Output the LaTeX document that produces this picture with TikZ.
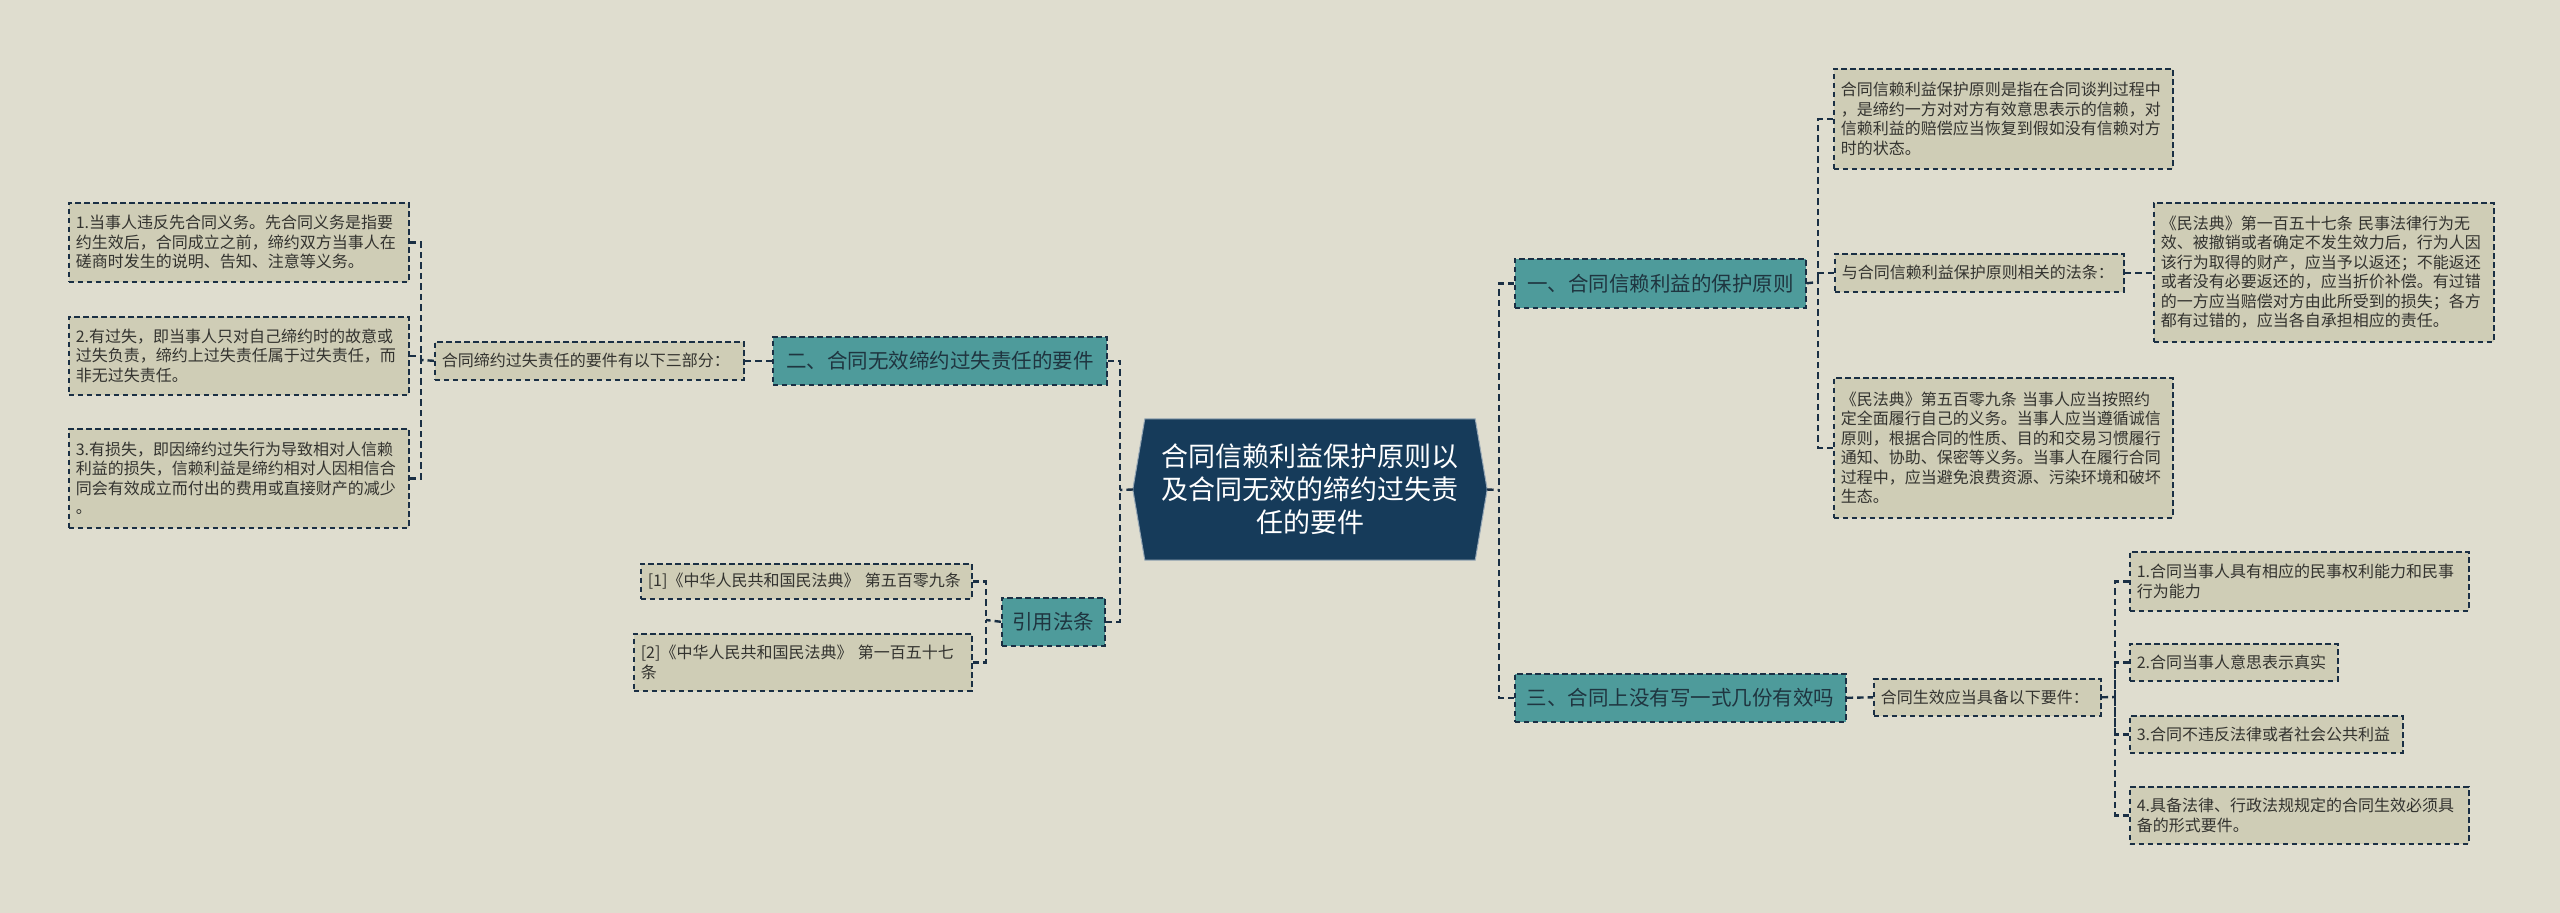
\documentclass[tikz,border=0pt]{standalone}
\usepackage{fontspec}
\setmainfont{Noto Sans CJK SC}
\definecolor{bgc}{HTML}{DFDDCF}
\definecolor{leafc}{HTML}{CFCDB6}
\definecolor{tealc}{HTML}{4E9B9B}
\definecolor{edgec}{HTML}{1A2F44}
\definecolor{txtc}{HTML}{33332F}
\definecolor{topictxt}{HTML}{1F3540}
\definecolor{centerc}{HTML}{163B5A}
\pgfdeclarelayer{bg}
\pgfdeclarelayer{background}
\pgfsetlayers{bg,background,main}
\begin{document}
\begin{tikzpicture}[x=1pt,y=1pt,
  leaf/.style={draw=edgec, dash pattern=on 5.5pt off 3.5pt, line width=1.6pt, fill=leafc, text=txtc,
    font=\fontsize{16}{19.5}\selectfont, align=left, inner xsep=7pt, inner ysep=0pt, anchor=north west},
  topic/.style={draw=edgec, dash pattern=on 5.5pt off 3.5pt, line width=1.6pt, fill=tealc, text=topictxt,
    font=\fontsize{20.5}{24}\selectfont, inner sep=0pt, anchor=north west},
  conn/.style={draw=edgec, line width=2.4pt, dash pattern=on 6.5pt off 4pt}]
\begin{pgfonlayer}{bg}
\fill[bgc] (0,0) rectangle (2560,-913);
\end{pgfonlayer}
\useasboundingbox (0,0) rectangle (2560,-913);

% center
\node[text=white, font=\fontsize{27}{33}\selectfont, align=center, minimum width=354pt, minimum height=141pt, inner sep=0pt] (c) at (1310,-489.5)
  {合同信赖利益保护原则以\\及合同无效的缔约过失责\\任的要件};
\begin{pgfonlayer}{background}
\path[fill=centerc, draw=white!55!centerc, line width=1pt]
  (c.west) -- ([xshift=12pt]c.north west) -- ([xshift=-12pt]c.north east) -- (c.east)
  -- ([xshift=-12pt]c.south east) -- ([xshift=12pt]c.south west) -- cycle;
\end{pgfonlayer}

% topics
\node[topic, minimum width=291pt, minimum height=49pt] (n1) at (1514,-258) {一、合同信赖利益的保护原则};
\node[topic, minimum width=334pt, minimum height=48pt] (n2) at (772,-336) {二、合同无效缔约过失责任的要件};
\node[topic, minimum width=103pt, minimum height=48pt] (yy) at (1001,-597) {引用法条};
\node[topic, minimum width=331pt, minimum height=48pt] (n3) at (1514,-673) {三、合同上没有写一式几份有效吗};

% right top
\node[leaf, text width=325pt, minimum height=100pt] (A) at (1833,-68)
  {合同信赖利益保护原则是指在合同谈判过程中\\，是缔约一方对对方有效意思表示的信赖，对\\信赖利益的赔偿应当恢复到假如没有信赖对方\\时的状态。};
\node[leaf, text width=275pt, minimum height=38pt] (B) at (1834,-253)
  {与合同信赖利益保护原则相关的法条：};
\node[leaf, text width=326pt, minimum height=139pt] (C) at (2153,-202)
  {《民法典》第一百五十七条~民事法律行为无\\效、被撤销或者确定不发生效力后，行为人因\\该行为取得的财产，应当予以返还；不能返还\\或者没有必要返还的，应当折价补偿。有过错\\的一方应当赔偿对方由此所受到的损失；各方\\都有过错的，应当各自承担相应的责任。};
\node[leaf, text width=325pt, minimum height=140pt] (D) at (1833,-377)
  {《民法典》第五百零九条~当事人应当按照约\\定全面履行自己的义务。当事人应当遵循诚信\\原则，根据合同的性质、目的和交易习惯履行\\通知、协助、保密等义务。当事人在履行合同\\过程中，应当避免浪费资源、污染环境和破坏\\生态。};

% right bottom
\node[leaf, text width=213pt, minimum height=37pt] (E) at (1873,-678) {合同生效应当具备以下要件：};
\node[leaf, text width=325pt, minimum height=59pt] (F1) at (2129,-551)
  {1.合同当事人具有相应的民事权利能力和民事\\行为能力};
\node[leaf, text width=194pt, minimum height=37pt] (F2) at (2129,-643) {2.合同当事人意思表示真实};
\node[leaf, text width=259pt, minimum height=37pt] (F3) at (2129,-715) {3.合同不违反法律或者社会公共利益};
\node[leaf, text width=325pt, minimum height=57pt] (F4) at (2129,-786)
  {4.具备法律、行政法规规定的合同生效必须具\\备的形式要件。};

% left
\node[leaf, text width=326pt, minimum height=79pt] (L1) at (68,-202)
  {1.当事人违反先合同义务。先合同义务是指要\\约生效后，合同成立之前，缔约双方当事人在\\磋商时发生的说明、告知、注意等义务。};
\node[leaf, text width=326pt, minimum height=78pt] (L2) at (68,-316)
  {2.有过失，即当事人只对自己缔约时的故意或\\过失负责，缔约上过失责任属于过失责任，而\\非无过失责任。};
\node[leaf, text width=326pt, minimum height=99pt] (L3) at (68,-428)
  {3.有损失，即因缔约过失行为导致相对人信赖\\利益的损失，信赖利益是缔约相对人因相信合\\同会有效成立而付出的费用或直接财产的减少\\。};
\node[leaf, text width=295pt, minimum height=38pt] (M) at (434,-341)
  {合同缔约过失责任的要件有以下三部分：};

% citations
\node[leaf, text width=317pt, minimum height=35pt] (R1) at (640,-563)
  {[1]《中华人民共和国民法典》~第五百零九条};
\node[leaf, text width=324pt, minimum height=57pt] (R2) at (633,-633)
  {[2]《中华人民共和国民法典》~第一百五十七\\条};

% junction points
\coordinate (jl) at (1120,-490);
\coordinate (jr) at (1499,-490);
\coordinate (j1) at (1818,-282);
\coordinate (j2) at (421,-360);
\coordinate (j3) at (986,-620);
\coordinate (j4) at (2115,-697);

% connectors
\draw[conn] (c.west) -- (jl);
\draw[conn] (n2.east) -| (jl);
\draw[conn] (yy.east) -| (jl);
\draw[conn] (c.east) -- (jr);
\draw[conn] (n1.west) -| (jr);
\draw[conn] (n3.west) -| (jr);

\draw[conn] (n1.east) -- (j1);
\draw[conn] (A.west) -| (j1);
\draw[conn] (B.west) -| (j1);
\draw[conn] (D.west) -| (j1);
\draw[conn] (B.east) -- (B.east -| C.west);

\draw[conn] (n2.west) -- (n2.west -| M.east);
\draw[conn] (M.west) -- (j2);
\draw[conn] (L1.east) -| (j2);
\draw[conn] (L2.east) -| (j2);
\draw[conn] (L3.east) -| (j2);

\draw[conn] (yy.west) -- (j3);
\draw[conn] (R1.east) -| (j3);
\draw[conn] (R2.east) -| (j3);

\draw[conn] (n3.east) -- (E.west);
\draw[conn] (E.east) -- (j4);
\draw[conn] (F1.west) -| (j4);
\draw[conn] (F2.west) -| (j4);
\draw[conn] (F3.west) -| (j4);
\draw[conn] (F4.west) -| (j4);
\end{tikzpicture}
\end{document}
